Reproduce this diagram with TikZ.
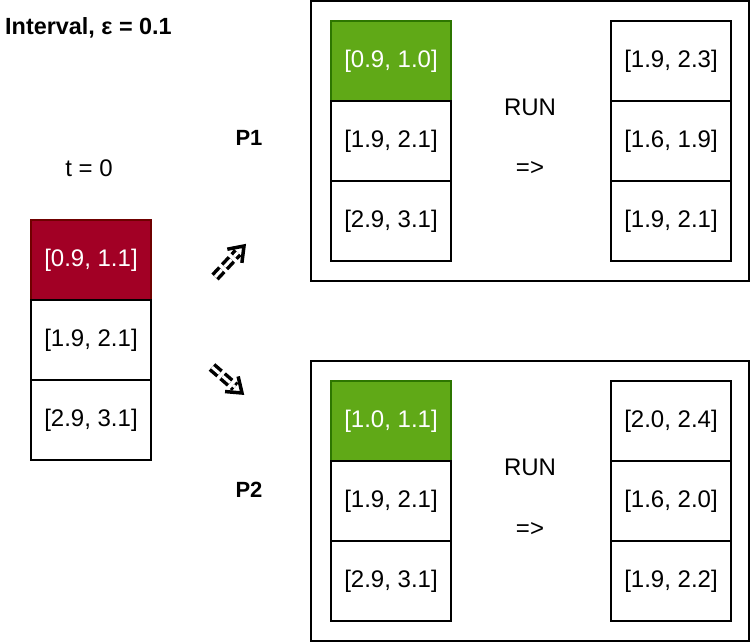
\documentclass[tikz,border=0pt]{standalone}
\usepackage{fontspec}
\setmainfont{Liberation Sans}
\usetikzlibrary{calc}
\definecolor{redfill}{HTML}{A20025}
\definecolor{redline}{HTML}{6F0000}
\definecolor{greenfill}{HTML}{60A917}
\definecolor{greenline}{HTML}{2D7600}
\tikzset{
  cell/.style={draw=black, line width=1.5pt, minimum width=120pt, minimum height=80pt, inner sep=0pt, font=\fontsize{24}{28}\selectfont},
  redcell/.style={cell, fill=redfill, draw=redline, text=white},
  greencell/.style={cell, fill=greenfill, draw=greenline, text=white},
  frame/.style={draw=black, line width=2.5pt, minimum width=438pt, minimum height=280pt, inner sep=0pt},
  plain/.style={inner sep=0pt, font=\fontsize{24}{28}\selectfont},
  boldlabel/.style={inner sep=0pt, font=\fontsize{22}{26}\selectfont\bfseries},
  titlelabel/.style={inner sep=0pt, font=\fontsize{23.4}{28}\selectfont\bfseries},
  shaft/.style={line width=3.5pt, double distance=3pt, dash pattern=on 10pt off 4pt},
  headline/.style={line width=3.5pt, line cap=butt, line join=miter}
}
\begin{document}
\begin{tikzpicture}[x=1pt, y=-1pt]
\useasboundingbox (0,0) rectangle (752,642);
% title and labels
\node[titlelabel, anchor=west] (title) at (5,28) {Interval, ε = 0.1};
\node[plain] (t0) at (89,168) {t = 0};
\node[boldlabel] (p1) at (249,138) {P1};
\node[boldlabel] (p2) at (249,490) {P2};
% left stack
\node[redcell] (l1) at (91,260) {[0.9, 1.1]};
\node[cell] (l2) at (91,340) {[1.9, 2.1]};
\node[cell] (l3) at (91,420) {[2.9, 3.1]};
% P1 frame
\node[frame] (f1) at (530,141) {};
\node[greencell] (a1) at (391,61) {[0.9, 1.0]};
\node[cell] (a2) at (391,141) {[1.9, 2.1]};
\node[cell] (a3) at (391,221) {[2.9, 3.1]};
\node[cell] (b1) at (671,61) {[1.9, 2.3]};
\node[cell] (b2) at (671,141) {[1.6, 1.9]};
\node[cell] (b3) at (671,221) {[1.9, 2.1]};
\node[plain] (run1) at (530,107) {RUN};
\node[plain] (imp1) at (530,169) {=>};
% P2 frame
\node[frame] (f2) at (530,501) {};
\node[greencell] (c1) at (391,421) {[1.0, 1.1]};
\node[cell] (c2) at (391,501) {[1.9, 2.1]};
\node[cell] (c3) at (391,581) {[2.9, 3.1]};
\node[cell] (d1) at (671,421) {[2.0, 2.4]};
\node[cell] (d2) at (671,501) {[1.6, 2.0]};
\node[cell] (d3) at (671,581) {[1.9, 2.2]};
\node[plain] (run2) at (530,467) {RUN};
\node[plain] (imp2) at (530,529) {=>};
% arrows
\coordinate (u1) at (215,277);
\coordinate (u2) at (244,246);
\coordinate (v1) at (212,367);
\coordinate (v2) at (242,393);
\draw[shaft] (u1) -- ($(u2)!9pt!(u1)$);
\draw[headline] ($(u2)!17pt!36:(u1)$) -- (u2) -- ($(u2)!17pt!-36:(u1)$);
\draw[shaft] (v1) -- ($(v2)!9pt!(v1)$);
\draw[headline] ($(v2)!17pt!36:(v1)$) -- (v2) -- ($(v2)!17pt!-36:(v1)$);
\end{tikzpicture}
\end{document}
